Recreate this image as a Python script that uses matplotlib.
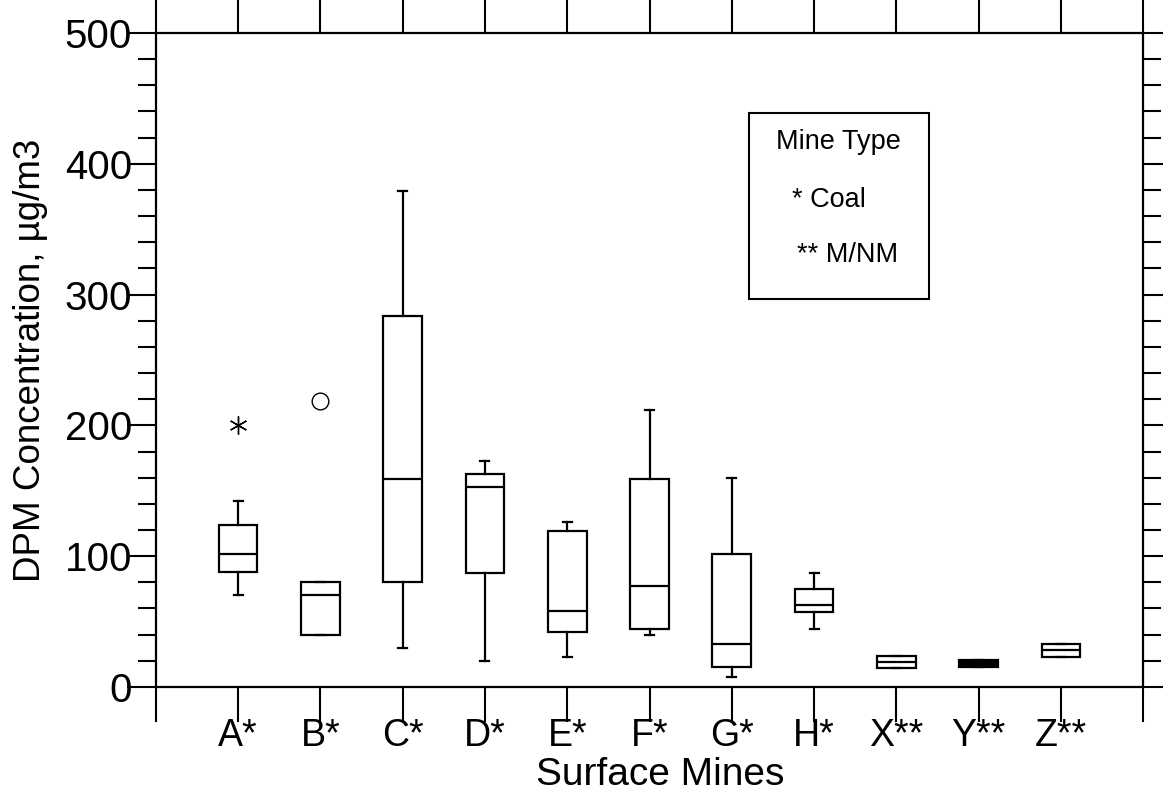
import matplotlib
matplotlib.use("Agg")
import matplotlib.pyplot as plt
from matplotlib.ticker import MultipleLocator
from matplotlib.patches import Rectangle

plt.rcParams['font.family'] = ['Liberation Sans', 'DejaVu Sans']

# Box statistics (ug/m3)
mines = ['A*', 'B*', 'C*', 'D*', 'E*', 'F*', 'G*', 'H*', 'X**', 'Y**', 'Z**']
whis_low = [70, 40, 30, 20, 23, 40, 8, 44, 14.5, 15.5, 23]
q1 = [88, 40, 80, 87, 42, 44, 15.5, 57, 14.5, 15.5, 23]
median = [102, 70, 159, 153, 58, 77, 33, 63, 19, 18, 28]
q3 = [124, 80, 284, 163, 119, 159, 102, 75, 23.5, 20.5, 33]
whis_high = [142, 80, 379, 173, 126, 212, 160, 87, 23.5, 20.5, 33]
outliers = [[200], [219], [], [], [], [], [], [], [], [], []]
outlier_marker = [(6, 2, 0), 'o', None, None, None, None, None, None, None, None, None]

fig = plt.figure(figsize=(11.63, 7.93), dpi=100)
ax = fig.add_axes([0.134, 0.1337, 0.849, 0.8247])

stats = []
for i in range(len(mines)):
    stats.append({'label': mines[i], 'whislo': whis_low[i], 'q1': q1[i],
                  'med': median[i], 'q3': q3[i], 'whishi': whis_high[i],
                  'fliers': outliers[i]})

lw = 1.6
positions = list(range(1, len(mines) + 1))
bp = ax.bxp(stats, positions=positions, widths=0.47, capwidths=0.11,
            patch_artist=True,
            boxprops=dict(facecolor='white', edgecolor='black', linewidth=lw),
            medianprops=dict(color='black', linewidth=lw),
            whiskerprops=dict(color='black', linewidth=lw),
            capprops=dict(color='black', linewidth=lw))

# Y** box is so thin it prints solid black
bp['boxes'][9].set_facecolor('black')

for line, mk in zip(bp['fliers'], outlier_marker):
    if mk is None:
        continue
    line.set_marker(mk)
    line.set_markerfacecolor('none')
    line.set_markeredgecolor('black')
    line.set_markeredgewidth(1.0)
    line.set_markersize(12 if mk == 'o' else 13)

# Axes
ax.set_xlim(0, 12)
ax.set_ylim(0, 500)
ax.set_xticks(range(0, 13))
ax.set_xticklabels([''] + mines + [''], fontsize=27)
ax.yaxis.set_major_locator(MultipleLocator(100))
ax.yaxis.set_minor_locator(MultipleLocator(20))
ax.tick_params(axis='y', labelsize=29, pad=-4)
ax.tick_params(axis='x', which='major', direction='out', length=25, width=1.5,
               top=True, bottom=True, pad=-3)
ax.tick_params(axis='y', which='major', direction='out', length=21, width=1.5,
               left=True, right=True)
ax.tick_params(axis='y', which='minor', direction='out', length=13, width=1.5,
               left=True, right=True)
for s in ax.spines.values():
    s.set_linewidth(1.6)

ax.set_xlabel('Surface Mines', fontsize=28, va='baseline')
ax.xaxis.set_label_coords(0.511, -0.150)
ax.set_ylabel('DPM Concentration, µg/m3', fontsize=26.5, labelpad=12)

# Mine type key
ax.add_patch(Rectangle((0.601, 0.593), 0.182, 0.285, transform=ax.transAxes,
                       facecolor='white', edgecolor='black', linewidth=1.5))
ax.text(0.691, 0.834, 'Mine Type', transform=ax.transAxes, fontsize=19.5,
        ha='center', va='center')
ax.text(0.644, 0.745, '* Coal', transform=ax.transAxes, fontsize=19.5,
        ha='left', va='center')
ax.text(0.649, 0.661, '** M/NM', transform=ax.transAxes, fontsize=19.5,
        ha='left', va='center')

fig.savefig('out.png', dpi=100)
